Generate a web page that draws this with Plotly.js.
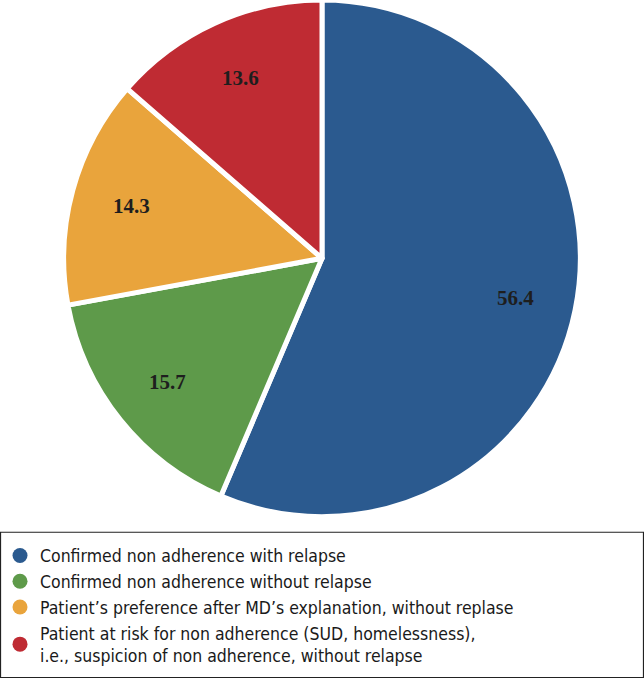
<!DOCTYPE html>
<html><head><meta charset="utf-8">
<script src="https://cdn.plot.ly/plotly-3.0.1.min.js"></script>
<style>html,body{margin:0;padding:0;background:#fff}#chart{width:644px;height:678px}</style>
</head><body><div id="chart"></div>
<script>
const categories = [
  "Confirmed non adherence with relapse",
  "Confirmed non adherence without relapse",
  "Patient\u2019s preference after MD\u2019s explanation, without replase",
  "Patient at risk for non adherence (SUD, homelessness),<br>i.e., suspicion of non adherence, without relapse"
];
const values = [56.4, 15.7, 14.3, 13.6];
const colors = ["#2B5A8F", "#5E9A4A", "#E9A43C", "#BF2B33"];

const W = 644, H = 678;
const dom = {x: [0, 1], y: [0.238, 1]};

const traces = [{
  type: "pie",
  values: values,
  labels: categories,
  sort: false,
  direction: "clockwise",
  rotation: 0,
  marker: {colors: colors, line: {color: "#ffffff", width: 5}},
  textinfo: "none",
  showlegend: false,
  hoverinfo: "none",
  domain: dom
}];
categories.forEach((c, i) => {
  traces.push({
    type: "scatter", mode: "markers", x: [null], y: [null], name: c,
    marker: {symbol: "circle", size: 15, color: colors[i]},
    showlegend: true, hoverinfo: "none"
  });
});

// value labels placed at each slice's mid-angle (derived from the values)
const total = values.reduce((a, b) => a + b, 0);
const R = Math.min((dom.x[1] - dom.x[0]) * W, (dom.y[1] - dom.y[0]) * H) / 2;
const cx = (dom.x[0] + dom.x[1]) / 2, cy = (dom.y[0] + dom.y[1]) / 2;
let cum = 0;
const annotations = values.map(v => {
  const mid = (cum + v / 2) / total * 2 * Math.PI;
  cum += v;
  const r = 0.765 * R;
  return {
    xref: "paper", yref: "paper",
    x: cx + r * Math.sin(mid) / W, y: cy + r * Math.cos(mid) / H,
    text: "<b>" + v.toFixed(1) + "</b>", showarrow: false,
    xanchor: "center", yanchor: "middle",
    font: {family: "Liberation Serif", size: 21, color: "#1e1e1e"}
  };
});

const layout = {
  width: W, height: H,
  margin: {l: 0, r: 0, t: 0, b: 0},
  paper_bgcolor: "#ffffff", plot_bgcolor: "rgba(0,0,0,0)",
  xaxis: {visible: false, domain: [0, 0.01]},
  yaxis: {visible: false, domain: [0, 0.01]},
  showlegend: true,
  annotations: annotations,
  legend: {
    x: 0, y: 0.207, xanchor: "left", yanchor: "top",
    font: {family: "DejaVu Sans Condensed", size: 17.5, color: "#1a1a1a"},
    bgcolor: "rgba(0,0,0,0)", borderwidth: 0,
    itemwidth: 30, tracegroupgap: 0
  },
  shapes: [{
    type: "rect", xref: "paper", yref: "paper",
    x0: 0.0008, x1: 0.9992, y0: 0.0007, y1: 0.215,
    line: {color: "#222222", width: 1.2}, fillcolor: "rgba(0,0,0,0)"
  }]
};
Plotly.newPlot("chart", traces, layout, {displayModeBar: false, staticPlot: true});
</script></body></html>
